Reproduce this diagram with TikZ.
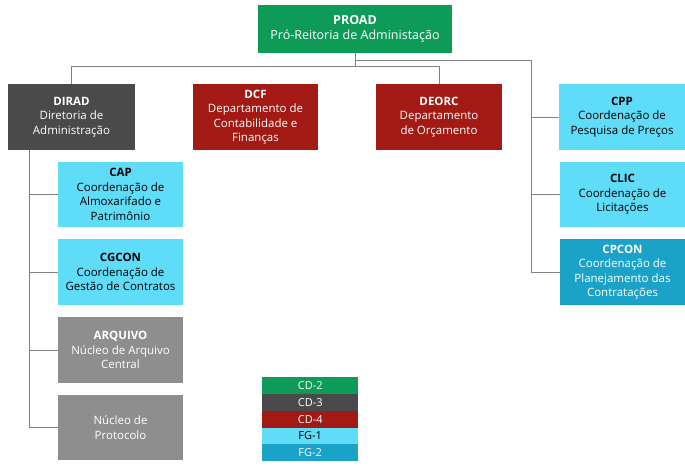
\documentclass[tikz,border=0pt]{standalone}
\usepackage{fontspec}
\setmainfont{Open Sans}
\definecolor{cgreen}{HTML}{0E9A57}
\definecolor{cdark}{HTML}{4A4A4A}
\definecolor{cred}{HTML}{A21A13}
\definecolor{ccyan}{HTML}{5EDCF8}
\definecolor{cteal}{HTML}{1AA2C8}
\definecolor{cgray}{HTML}{8E8E8E}
\definecolor{cline}{HTML}{808080}
\tikzset{
  box/.style={align=center, inner sep=0pt, font=\fontsize{11.5}{14.5}\selectfont},
  conn/.style={draw=cline, line width=0.8pt},
  leg/.style={minimum width=96pt, minimum height=16.8pt, inner sep=0pt, font=\fontsize{11}{12}\selectfont, anchor=north west},
}
\begin{document}
\begin{tikzpicture}[x=1pt,y=-1pt]
\useasboundingbox (0,0) rectangle (685,473);
\fill[white] (0,0) rectangle (685,473);
% boxes
\node[box, fill=cgreen, text=white, minimum width=194pt, minimum height=48pt, font=\fontsize{12.5}{15.5}\selectfont] (proad) at (355,29) {\textbf{PROAD}\\Pró-Reitoria de Administação};
\node[box, fill=cdark, text=white, minimum width=127pt, minimum height=66pt] (dirad) at (71.5,117) {\textbf{DIRAD}\\Diretoria de\\Administração};
\node[box, fill=cred, text=white, minimum width=125pt, minimum height=66pt] (dcf) at (255.5,117) {\textbf{DCF}\\Departamento de\\Contabilidade e\\Finanças};
\node[box, fill=cred, text=white, minimum width=126pt, minimum height=66pt] (deorc) at (439,117) {\textbf{DEORC}\\Departamento\\de Orçamento};
\node[box, fill=ccyan, text=black, minimum width=126pt, minimum height=66pt] (cpp) at (622,117) {\textbf{CPP}\\Coordenação de\\Pesquisa de Preços};
\node[box, fill=ccyan, text=black, minimum width=125pt, minimum height=65pt] (cap) at (120.5,194.5) {\textbf{CAP}\\Coordenação de\\Almoxarifado e\\Patrimônio};
\node[box, fill=ccyan, text=black, minimum width=125pt, minimum height=66pt] (cgcon) at (120.5,272) {\textbf{CGCON}\\Coordenação de\\Gestão de Contratos};
\node[box, fill=cgray, text=white, minimum width=125pt, minimum height=66pt] (arq) at (120.5,350) {\textbf{ARQUIVO}\\Núcleo de Arquivo\\Central};
\node[box, fill=cgray, text=white, minimum width=125pt, minimum height=65pt] (prot) at (120.5,427.5) {Núcleo de\\Protocolo};
\node[box, fill=ccyan, text=black, minimum width=125pt, minimum height=65pt] (clic) at (622.5,194.5) {\textbf{CLIC}\\Coordenação de\\Licitações};
\node[box, fill=cteal, text=white, minimum width=125pt, minimum height=66pt] (cpcon) at (622.5,272) {\textbf{CPCON}\\Coordenação de\\Planejamento das\\Contratações};
% connectors
\coordinate (j1) at (355,66);
\coordinate (j2) at (355,60);
\coordinate (rb) at (531,60);
\coordinate (lb) at (29,150);
\draw[conn] (proad.south) -- (j1);
\draw[conn] (j2) -- (rb) |- (cpcon.west);
\draw[conn] (rb |- cpp.west) -- (cpp.west);
\draw[conn] (rb |- clic.west) -- (clic.west);
\draw[conn] (j1) -| (dirad.north);
\draw[conn] (j1) -| (deorc.north);
\draw[conn] (lb) |- (prot.west);
\draw[conn] (lb |- cap.west) -- (cap.west);
\draw[conn] (lb |- cgcon.west) -- (cgcon.west);
\draw[conn] (lb |- arq.west) -- (arq.west);
% legend
\node[leg, fill=cgreen, text=white] (l1) at (262,377) {CD-2};
\node[leg, fill=cdark, text=white] (l2) at (262,393.8) {CD-3};
\node[leg, fill=cred, text=white] (l3) at (262,410.6) {CD-4};
\node[leg, fill=ccyan, text=black] (l4) at (262,427.4) {FG-1};
\node[leg, fill=cteal, text=white] (l5) at (262,444.2) {FG-2};
\end{tikzpicture}
\end{document}
